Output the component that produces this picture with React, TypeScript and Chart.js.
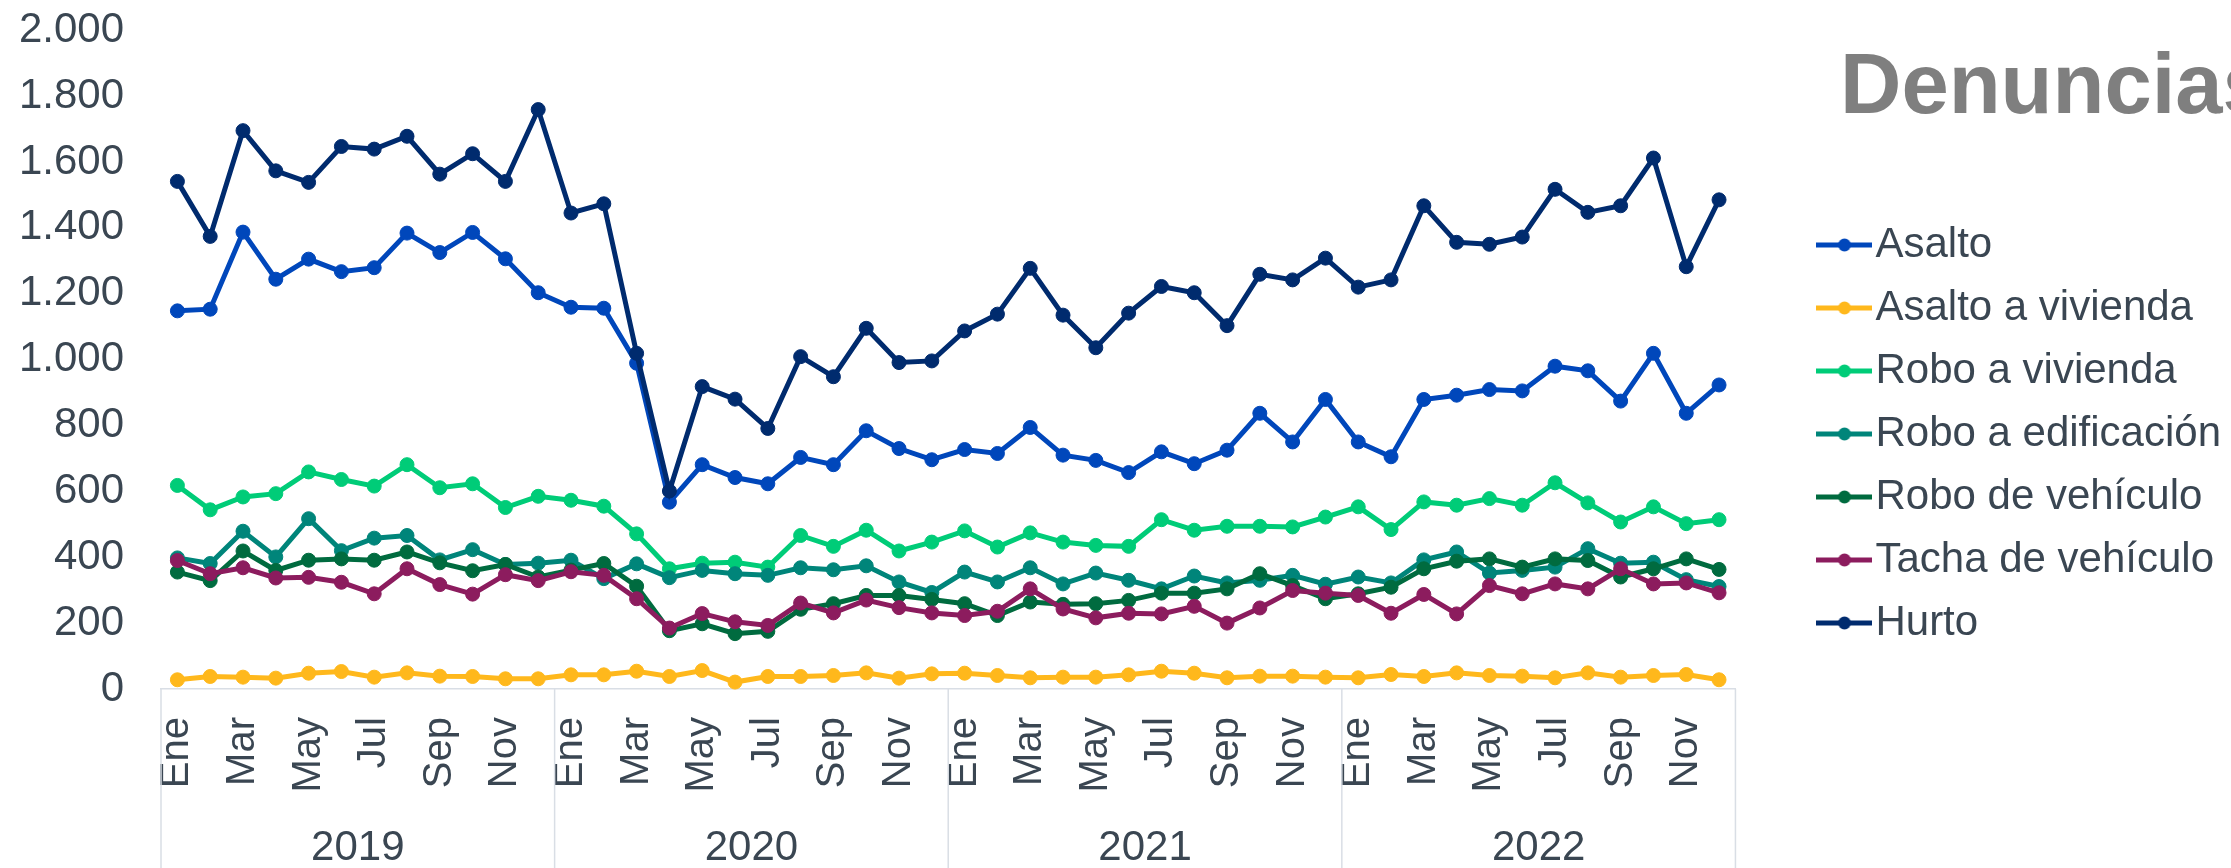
import React, { useEffect, useRef } from 'react';
import { Chart, registerables } from 'chart.js';

Chart.register(...registerables);

// ---------- data ----------
const years = ['2019', '2020', '2021', '2022'];
const months = ['Ene', 'Feb', 'Mar', 'Abr', 'May', 'Jun', 'Jul', 'Ago', 'Sep', 'Oct', 'Nov', 'Dic'];
const categories = years.flatMap((y) => months.map((m) => `${m} ${y}`));

const yTicks = [0, 200, 400, 600, 800, 1000, 1200, 1400, 1600, 1800, 2000];

const seriesNames = [
  'Asalto',
  'Asalto a vivienda',
  'Robo a vivienda',
  'Robo a edificación',
  'Robo de vehículo',
  'Tacha de vehículo',
  'Hurto',
];

const asalto = [1148, 1153, 1387, 1244, 1305, 1267, 1279, 1384, 1325, 1386, 1306, 1203, 1159, 1156, 989, 567, 681, 642, 623, 703, 681, 784, 730, 696, 727, 715, 794, 710, 694, 657, 720, 684, 725, 837, 750, 879, 750, 705, 879, 892, 909, 905, 980, 966, 874, 1019, 837, 923];
const asaltoVivienda = [28, 38, 36, 33, 48, 53, 36, 49, 39, 38, 31, 31, 43, 43, 54, 38, 56, 21, 38, 38, 41, 49, 33, 46, 48, 41, 34, 36, 36, 43, 54, 48, 34, 39, 39, 36, 34, 44, 38, 49, 41, 39, 34, 49, 36, 41, 44, 28];
const roboVivienda = [618, 544, 583, 593, 659, 636, 616, 681, 611, 623, 551, 585, 573, 555, 471, 365, 382, 385, 370, 466, 433, 482, 419, 446, 480, 431, 474, 446, 436, 433, 514, 482, 494, 494, 492, 522, 553, 484, 568, 558, 578, 558, 626, 565, 507, 553, 502, 514];
const roboEdificacion = [398, 381, 479, 401, 517, 420, 458, 466, 392, 423, 378, 382, 391, 335, 380, 338, 360, 350, 345, 368, 362, 374, 325, 293, 355, 325, 368, 319, 352, 330, 304, 343, 322, 330, 345, 318, 340, 322, 392, 416, 352, 360, 370, 426, 382, 385, 332, 311];
const roboVehiculo = [355, 329, 419, 360, 391, 395, 391, 416, 383, 359, 378, 340, 361, 381, 312, 177, 198, 168, 175, 242, 259, 284, 284, 272, 259, 223, 264, 257, 259, 269, 291, 291, 304, 350, 314, 274, 289, 309, 365, 388, 395, 370, 395, 390, 340, 365, 395, 363];
const tachaVehiculo = [390, 350, 368, 337, 339, 324, 289, 365, 317, 288, 347, 329, 356, 345, 274, 185, 229, 204, 193, 261, 231, 270, 247, 231, 223, 236, 304, 243, 216, 230, 228, 251, 200, 246, 299, 291, 284, 230, 287, 228, 314, 289, 319, 304, 365, 319, 322, 292];
const hurto = [1541, 1374, 1695, 1573, 1538, 1647, 1639, 1678, 1563, 1625, 1541, 1759, 1445, 1473, 1019, 601, 918, 880, 791, 1009, 948, 1095, 991, 996, 1087, 1138, 1277, 1135, 1036, 1141, 1222, 1203, 1103, 1259, 1242, 1308, 1220, 1242, 1467, 1356, 1350, 1372, 1517, 1447, 1467, 1612, 1282, 1485];

const seriesValues = [asalto, asaltoVivienda, roboVivienda, roboEdificacion, roboVehiculo, tachaVehiculo, hurto];

// ---------- styles ----------
const palette = ['#0047BB', '#FFB81C', '#00CC78', '#00857A', '#006B3F', '#8C1C5E', '#002B6E'];
const FONT = '"Liberation Sans", Arial, Helvetica, sans-serif';
const TEXT = '#3a4652';
const RULE = '#d9dee5';

const formatThousands = (v: number) =>
  Math.round(v).toString().replace(/\B(?=(\d{3})+(?!\d))/g, '.');

function makeMarker(color: string) {
  const c = document.createElement('canvas');
  c.width = 56;
  c.height = 16;
  const g = c.getContext('2d')!;
  g.strokeStyle = color;
  g.lineWidth = 5;
  g.beginPath();
  g.moveTo(0, 8);
  g.lineTo(56, 8);
  g.stroke();
  g.fillStyle = color;
  g.beginPath();
  g.arc(28, 8, 6.5, 0, Math.PI * 2);
  g.fill();
  return c;
}

const decorPlugin = {
  id: 'decor',
  afterDraw(chart: any) {
    const { ctx } = chart;
    const x = chart.scales.x;
    ctx.save();
    ctx.strokeStyle = RULE;
    ctx.lineWidth = 1.5;
    for (let k = 0; k <= years.length; k++) {
      const px = x.getPixelForValue(k * months.length - 0.5);
      ctx.beginPath();
      ctx.moveTo(px, x.top);
      ctx.lineTo(px, chart.height);
      ctx.stroke();
    }
    ctx.fillStyle = '#7f7f7f';
    ctx.font = `bold 85px ${FONT}`;
    ctx.textAlign = 'left';
    ctx.textBaseline = 'alphabetic';
    ctx.fillText('Denuncias', 1840, 113);
    ctx.restore();
  },
};

export default function App() {
  const ref = useRef<HTMLCanvasElement | null>(null);

  useEffect(() => {
    document.body.style.margin = '0';
    document.body.style.overflow = 'hidden';
    if (!ref.current) return;
    const markers = palette.map(makeMarker);

    const datasets = seriesNames.map((name, i) => ({
      label: name,
      data: seriesValues[i],
      borderColor: palette[i],
      backgroundColor: palette[i],
      pointBackgroundColor: palette[i],
      pointBorderColor: palette[i],
      borderWidth: 5,
      pointRadius: 7,
      pointBorderWidth: 1,
      tension: 0,
      clip: 12,
      order: seriesNames.length - i,
    }));

    const chart = new Chart(ref.current, {
      type: 'line',
      data: { labels: categories, datasets },
      plugins: [decorPlugin],
      options: {
        animation: false,
        responsive: false,
        devicePixelRatio: 1,
        layout: { padding: 0 },
        plugins: {
          tooltip: { enabled: false },
          title: { display: false },
          legend: {
            display: true,
            position: 'right',
            align: 'center',
            labels: {
              usePointStyle: true,
              pointStyleWidth: 20,
              padding: 21,
              color: TEXT,
              font: { size: 42, family: FONT },
              generateLabels: (c: any) =>
                c.data.datasets.map((ds: any, i: number) => ({
                  text: ds.label,
                  pointStyle: markers[i],
                  fillStyle: ds.borderColor,
                  strokeStyle: ds.borderColor,
                  lineWidth: 0,
                  hidden: false,
                  datasetIndex: i,
                  fontColor: TEXT,
                })),
            },
          },
        },
        scales: {
          x: {
            type: 'category',
            offset: true,
            grid: { display: false, drawTicks: false, tickLength: 0 },
            border: { display: true, color: RULE, width: 1.5 },
            ticks: {
              autoSkip: false,
              minRotation: 90,
              maxRotation: 90,
              padding: 28,
              color: TEXT,
              font: { size: 40, family: FONT },
              callback: (_v: any, index: number) =>
                index % 2 === 0 ? months[index % months.length] : '',
            },
            afterFit: (s: any) => {
              s.height = 106;
            },
          },
          x2: {
            type: 'category',
            position: 'bottom',
            labels: years,
            offset: true,
            grid: { display: false, drawTicks: false, tickLength: 0 },
            border: { display: false },
            ticks: {
              autoSkip: false,
              maxRotation: 0,
              padding: 28,
              color: TEXT,
              font: { size: 42, family: FONT },
            },
            afterFit: (s: any) => {
              s.height = 73;
            },
          },
          y: {
            type: 'linear',
            position: 'left',
            min: yTicks[0],
            max: yTicks[yTicks.length - 1],
            grid: {
              display: true,
              drawOnChartArea: false,
              drawTicks: true,
              tickLength: 32,
              color: 'rgba(0,0,0,0)',
            },
            border: { display: false },
            afterBuildTicks: (s: any) => {
              s.ticks = yTicks.map((v) => ({ value: v }));
            },
            ticks: {
              padding: 5,
              color: TEXT,
              font: { size: 42, family: FONT },
              callback: (v: any) => formatThousands(Number(v)),
            },
            afterFit: (s: any) => {
              s.width = 161;
            },
          },
          yR: {
            type: 'linear',
            position: 'right',
            display: false,
            afterFit: (s: any) => {
              s.width = 78;
            },
          },
        },
      } as any,
    });

    return () => chart.destroy();
  }, []);

  return (
    <div style={{ width: 2231, height: 868, overflow: 'hidden', background: '#ffffff' }}>
      <canvas ref={ref} width={2231} height={868} style={{ display: 'block' }} />
    </div>
  );
}
